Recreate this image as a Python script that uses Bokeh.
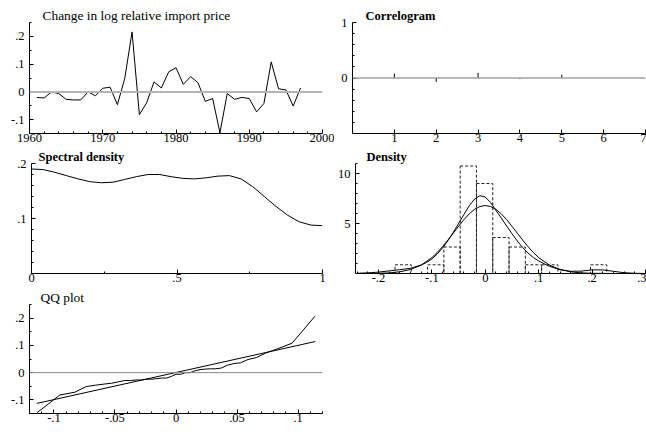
from bokeh.plotting import figure
from bokeh.layouts import column, row
from bokeh.models import FixedTicker, CustomJSTickFormatter, Span
from bokeh.embed import file_html
from bokeh.resources import INLINE

# ---------------- data ----------------
years = list(range(1961, 1998))
dlog_price = [-0.020, -0.022, 0.000, -0.006, -0.027, -0.029, -0.029, 0.000, -0.014, 0.013,
              0.017, -0.046, 0.048, 0.216, -0.082, -0.039, 0.036, 0.014, 0.072, 0.087,
              0.027, 0.055, 0.033, -0.034, -0.024, -0.147, -0.006, -0.027, -0.020, -0.024,
              -0.072, -0.042, 0.108, 0.011, 0.007, -0.051, 0.014]

acf_lags = [1, 2, 3, 4, 5]
acf_vals = [0.08, -0.07, 0.09, -0.02, 0.06]

spec_freq = [0.00, 0.04, 0.08, 0.12, 0.16, 0.20, 0.24, 0.28, 0.32, 0.36, 0.40, 0.44, 0.48,
             0.52, 0.56, 0.60, 0.64, 0.68, 0.72, 0.76, 0.80, 0.84, 0.88, 0.92, 0.96, 1.00]
spec_vals = [0.190, 0.189, 0.184, 0.178, 0.172, 0.167, 0.165, 0.166, 0.171, 0.176, 0.180,
             0.180, 0.176, 0.173, 0.172, 0.174, 0.177, 0.178, 0.172, 0.158, 0.140, 0.122,
             0.106, 0.094, 0.088, 0.087]

hist_left = [-0.169, -0.108, -0.0775, -0.047, -0.0165, 0.014, 0.0445, 0.075, 0.1055, 0.197]
hist_width = 0.0305
hist_height = [0.87, 0.87, 2.65, 10.75, 9.0, 3.6, 2.65, 0.87, 0.87, 0.87]

kern_x = [-0.24, -0.22, -0.20, -0.18, -0.16, -0.14, -0.12, -0.11, -0.10, -0.09, -0.08, -0.07,
          -0.06, -0.05, -0.04, -0.03, -0.02, -0.01, 0.00, 0.01, 0.02, 0.03, 0.04, 0.05, 0.06,
          0.07, 0.08, 0.09, 0.10, 0.12, 0.14, 0.16, 0.18, 0.20, 0.22, 0.24, 0.26, 0.28, 0.30]
kern_y = [0.02, 0.06, 0.14, 0.26, 0.38, 0.52, 0.85, 1.10, 1.45, 1.95, 2.55, 3.28, 4.10, 5.00,
          5.90, 6.78, 7.45, 7.78, 7.65, 7.10, 6.30, 5.55, 4.75, 3.98, 3.25, 2.60, 2.05, 1.60,
          1.25, 0.72, 0.38, 0.22, 0.24, 0.36, 0.36, 0.22, 0.08, 0.02, 0.00]

norm_x = [-0.24, -0.22, -0.20, -0.18, -0.16, -0.14, -0.12, -0.10, -0.09, -0.08, -0.07, -0.06,
          -0.05, -0.04, -0.03, -0.02, -0.01, 0.00, 0.01, 0.02, 0.03, 0.04, 0.05, 0.06, 0.07,
          0.08, 0.09, 0.10, 0.12, 0.14, 0.16, 0.18, 0.20, 0.22, 0.24, 0.30]
norm_y = [0.00, 0.01, 0.02, 0.06, 0.17, 0.40, 0.84, 1.59, 2.10, 2.69, 3.34, 4.03, 4.72, 5.39,
          5.96, 6.42, 6.70, 6.80, 6.70, 6.42, 5.96, 5.39, 4.72, 4.03, 3.34, 2.69, 2.10, 1.59,
          0.84, 0.40, 0.17, 0.06, 0.02, 0.01, 0.00, 0.00]

qq_theory = [-0.1138, -0.0951, -0.0829, -0.0735, -0.0657, -0.0589, -0.0528, -0.0473, -0.0420,
             -0.0372, -0.0326, -0.0282, -0.0239, -0.0197, -0.0157, -0.0117, -0.0077, -0.0039,
             0.0, 0.0039, 0.0077, 0.0117, 0.0157, 0.0197, 0.0239, 0.0282, 0.0326, 0.0372,
             0.0420, 0.0473, 0.0528, 0.0589, 0.0657, 0.0735, 0.0829, 0.0951, 0.1138]
qq_sample = [-0.147, -0.082, -0.072, -0.051, -0.046, -0.042, -0.039, -0.034, -0.029, -0.029,
             -0.027, -0.027, -0.024, -0.024, -0.022, -0.020, -0.020, -0.014, -0.006, -0.006,
             0.000, 0.000, 0.007, 0.011, 0.013, 0.014, 0.014, 0.017, 0.027, 0.033, 0.036,
             0.048, 0.055, 0.072, 0.087, 0.108, 0.207]
qq_line_x = [-0.114, 0.114]
qq_line_y = [-0.113, 0.114]

titles = ["Change in log relative import price", "Correlogram", "Spectral density",
          "Density", "QQ plot"]

# tick positions (labels formatted OxMetrics-style: ".1", "-.05")
t1_x = [1960, 1970, 1980, 1990, 2000]
t1_xm = list(range(1962, 2000, 2))
t1_y = [-0.1, 0.0, 0.1, 0.2]
t1_ym = [-0.15, -0.05, 0.05, 0.15, 0.25]
t2_x = [1, 2, 3, 4, 5, 6, 7]
t2_y = [0, 1]
t2_ym = [-0.8, -0.6, -0.4, -0.2, 0.2, 0.4, 0.6, 0.8]
t3_x = [0, 0.5, 1]
t3_xm = [0.25, 0.75]
t3_y = [0.1, 0.2]
t3_ym = [0.02, 0.04, 0.06, 0.08, 0.12, 0.14, 0.16, 0.18]
t4_x = [-0.2, -0.1, 0.0, 0.1, 0.2, 0.3]
t4_xm = [round(-0.24 + 0.02 * i, 2) for i in range(28)]
t4_y = [5, 10]
t4_ym = [1, 2, 3, 4, 6, 7, 8, 9, 11]
t5_x = [-0.1, -0.05, 0.0, 0.05, 0.1]
t5_xm = [round(-0.12 + 0.01 * i, 2) for i in range(25)]
t5_y = [-0.1, 0.0, 0.1, 0.2]
t5_ym = [-0.15, -0.05, 0.05, 0.15, 0.25]

FONT = "Liberation Serif"

fmt = CustomJSTickFormatter(code="""
let v = Math.round(tick*10000)/10000;
let s = v.toString();
if (s.startsWith('0.')) { s = s.slice(1); }
else if (s.startsWith('-0.')) { s = '-' + s.slice(2); }
return s;
""")


def make_fig(title, toff, tsize, tstyle, w, h, l, r, t, b, xr, yr):
    p = figure(width=w, height=h, x_range=xr, y_range=yr, output_backend="svg",
               toolbar_location=None, min_border_left=l, min_border_right=r,
               min_border_top=t, min_border_bottom=b, title=title)
    p.title.align = "left"
    p.title.offset = toff
    p.title.standoff = 0
    p.title.text_font = FONT
    p.title.text_font_size = tsize
    p.title.text_font_style = tstyle
    p.title.text_color = "black"
    p.xgrid.visible = False
    p.ygrid.visible = False
    p.outline_line_color = None
    return p


def style(p, xt, xm, yt, ym):
    p.xaxis.ticker = FixedTicker(ticks=xt, minor_ticks=xm)
    p.yaxis.ticker = FixedTicker(ticks=yt, minor_ticks=ym)
    for ax in (p.xaxis[0], p.yaxis[0]):
        ax.axis_line_color = "black"
        ax.axis_line_width = 1
        ax.major_tick_in = 4
        ax.major_tick_out = 0
        ax.minor_tick_in = 2
        ax.minor_tick_out = 0
        ax.major_tick_line_color = "black"
        ax.minor_tick_line_color = "black"
        ax.major_label_text_font = FONT
        ax.major_label_text_font_size = "12.5px"
        ax.major_label_text_color = "black"
        ax.formatter = fmt
    p.xaxis.major_label_standoff = 0
    p.yaxis.major_label_standoff = 5


# ---- panel 1: time series ----
p1 = make_fig(titles[0], 13, "13.4px", "normal", 334, 147, 29, 12, 22, 14,
              (1960, 2000), (-0.15, 0.25))
p1.add_layout(Span(location=0, dimension="width", line_color="#b4b4b4", line_width=2))
p1.line(years, dlog_price, line_color="black", line_width=1)
style(p1, t1_x, t1_xm, t1_y, t1_ym)

# ---- panel 2: correlogram ----
p2 = make_fig(titles[1], 13, "12.5px", "bold", 312, 147, 18, 1, 22, 14, (0, 7), (-1, 1))
p2.add_layout(Span(location=0, dimension="width", line_color="#a0a0a0", line_width=1.5))
p2.segment(x0=acf_lags, y0=[0] * len(acf_lags), x1=acf_lags, y1=acf_vals,
           line_color="black", line_width=1)
style(p2, t2_x, [], t2_y, t2_ym)

# ---- panel 3: spectral density ----
p3 = make_fig(titles[2], 7, "12.5px", "bold", 334, 140, 31, 12, 15, 14, (0, 1), (0, 0.2))
p3.line(spec_freq, spec_vals, line_color="black", line_width=1)
style(p3, t3_x, t3_xm, t3_y, t3_ym)

# ---- panel 4: density ----
p4 = make_fig(titles[3], 11, "12.5px", "bold", 312, 140, 18, 1, 15, 14,
              (-0.243, 0.3), (0, 11))
p4.quad(left=hist_left, right=[v + hist_width for v in hist_left], bottom=0, top=hist_height,
        fill_color=None, line_color="#222222", line_width=1, line_dash="3 2")
p4.line(norm_x, norm_y, line_color="black", line_width=1)
p4.line(kern_x, kern_y, line_color="black", line_width=1)
style(p4, t4_x, t4_xm, t4_y, t4_ym)

# ---- panel 5: QQ plot ----
p5 = make_fig(titles[4], 11, "13.4px", "normal", 334, 147, 29, 12, 15, 21,
              (-0.12, 0.12), (-0.15, 0.25))
p5.add_layout(Span(location=0, dimension="width", line_color="#888888", line_width=1))
p5.line(qq_line_x, qq_line_y, line_color="black", line_width=1)
p5.line(qq_theory, qq_sample, line_color="black", line_width=1)
style(p5, t5_x, t5_xm, t5_y, t5_ym)

layout = column(row(p1, p2), row(p3, p4), p5)

open("out.html", "w").write(file_html(layout, INLINE))
